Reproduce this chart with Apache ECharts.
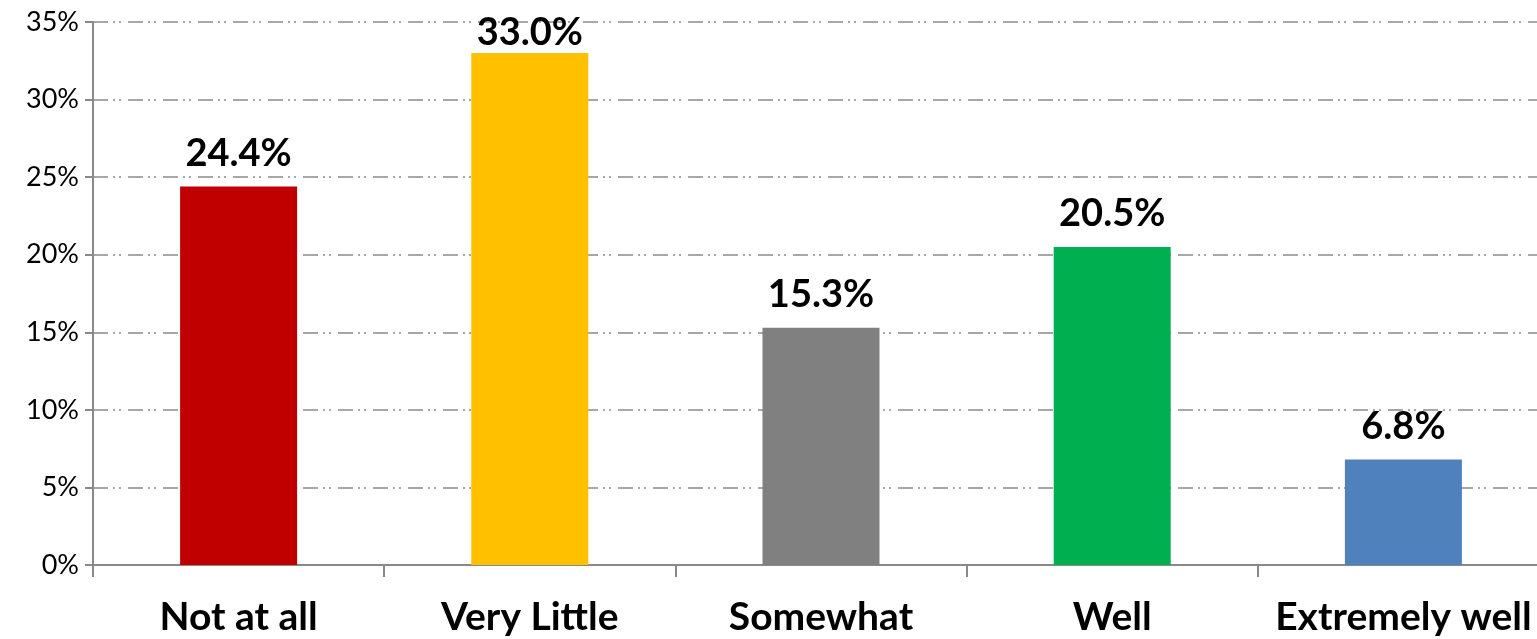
<!DOCTYPE html>
<html>
<head>
<meta charset="utf-8">
<script src="https://cdn.jsdelivr.net/npm/echarts@6/dist/echarts.min.js"></script>
<style>
html,body{margin:0;padding:0;background:#fff;overflow:hidden;width:1537px;height:639px;}
#chart{width:1549px;height:639px;}
</style>
</head>
<body>
<div id="chart"></div>
<script>
const categories = ['Not at all', 'Very Little', 'Somewhat', 'Well', 'Extremely well'];
const values = [24.4, 33.0, 15.3, 20.5, 6.8];
const barColors = ['#C00000', '#FFC000', '#808080', '#00B050', '#4F81BD'];
const yTicks = [0, 5, 10, 15, 20, 25, 30, 35];

const LABEL_FONT = 38;
const LABEL_GAP = 14;
const chart = echarts.init(document.getElementById('chart'));
const baseOption = {
  animation: false,
  grid: { left: 93, right: 0, top: 22, bottom: 74, containLabel: false },
  xAxis: {
    type: 'category',
    data: categories,
    axisLine: { lineStyle: { color: '#898989', width: 2 } },
    axisTick: { show: true, length: 12, lineStyle: { color: '#898989', width: 2 } },
    axisLabel: { interval: 0, hideOverlap: false, color: '#000', fontFamily: 'Lato, "Open Sans", sans-serif', fontWeight: 'bold', fontSize: 39, margin: 33 }
  },
  yAxis: {
    type: 'value',
    min: yTicks[0],
    max: yTicks[yTicks.length - 1],
    interval: 5,
    axisLine: { show: true, lineStyle: { color: '#898989', width: 2 } },
    axisTick: { show: true, length: 8, lineStyle: { color: '#898989', width: 2 } },
    axisLabel: { color: '#000', fontFamily: 'Lato, "Open Sans", sans-serif', fontSize: 27, margin: 14, formatter: '{value}%' },
    splitLine: { show: true, lineStyle: { color: '#8a8a8a', width: 1.5, type: [15, 5, 2, 4, 2, 7] } }
  },
  series: [{
    type: 'bar',
    barWidth: 117,
    data: values.map((v, i) => ({ value: v, itemStyle: { color: barColors[i] } })),
    label: {
      show: true,
      position: 'top',
      distance: LABEL_GAP,
      color: '#000',
      fontFamily: 'Lato, "Open Sans", sans-serif',
      fontWeight: 'bold',
      fontSize: LABEL_FONT,
      formatter: p => p.value.toFixed(1) + '%'
    }
  }]
};
chart.setOption(baseOption);
// Keep labels inside the chart like the original (clamp distance when near the top)
const minTop = 14;
chart.setOption({
  series: [{
    data: values.map((v, i) => {
      const top = chart.convertToPixel({ gridIndex: 0 }, [i, v])[1];
      const room = top - minTop - LABEL_FONT;
      return { value: v, itemStyle: { color: barColors[i] }, label: { distance: Math.max(0, Math.min(LABEL_GAP, room)) } };
    })
  }]
});
</script>
</body>
</html>
